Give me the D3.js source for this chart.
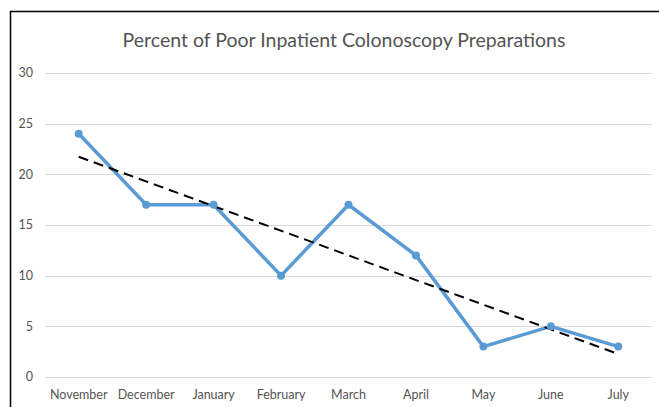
<!DOCTYPE html>
<html>
<head>
<meta charset="utf-8">
<script src="https://cdn.jsdelivr.net/npm/d3@7"></script>
<style>
  body { margin: 0; background: #fff; }
  text { font-family: Lato, "Open Sans", sans-serif; fill: #545454; }
</style>
</head>
<body>
<div id="chart"></div>
<script>
// data
let months = ["November", "December", "January", "February", "March", "April", "May", "June", "July"];
let percentPoor = [24, 17, 17, 10, 17, 12, 3, 5, 3];
let yTicks = [0, 5, 10, 15, 20, 25, 30];
let title = "Percent of Poor Inpatient Colonoscopy Preparations";

let width = 659, height = 407;
let margin = { top: 73, right: 7, bottom: 30, left: 45 };

let svg = d3.select("#chart").append("svg")
  .attr("width", width)
  .attr("height", height);

// frame (only top and left show in the crop)
svg.append("path")
  .attr("d", "M10.5," + height + "V11.5H" + width)
  .attr("fill", "none")
  .attr("stroke", "#000")
  .attr("stroke-width", 1.5);

let x = d3.scaleBand()
  .domain(months)
  .range([margin.left, width - margin.right]);

let y = d3.scaleLinear()
  .domain([0, 30])
  .range([height - margin.bottom, margin.top]);

// grid lines
svg.append("g")
  .selectAll("line")
  .data(yTicks)
  .enter().append("line")
  .attr("x1", margin.left)
  .attr("x2", width - margin.right)
  .attr("y1", d => Math.round(y(d)) + 0.5)
  .attr("y2", d => Math.round(y(d)) + 0.5)
  .attr("stroke", "#d9d9d9")
  .attr("stroke-width", 1);

// y labels
svg.append("g")
  .selectAll("text")
  .data(yTicks)
  .enter().append("text")
  .attr("x", 33)
  .attr("y", d => y(d))
  .attr("dy", "0.35em")
  .attr("text-anchor", "end")
  .attr("font-size", 12.5)
  .text(d => d);

// x labels
svg.append("g")
  .selectAll("text")
  .data(months)
  .enter().append("text")
  .attr("x", d => x(d) + x.bandwidth() / 2)
  .attr("y", 395)
  .attr("dy", "0.35em")
  .attr("text-anchor", "middle")
  .attr("font-size", 12.5)
  .text(d => d);

// title
svg.append("text")
  .attr("x", 344)
  .attr("y", 40)
  .attr("dy", "0.35em")
  .attr("text-anchor", "middle")
  .attr("font-size", 19.5)
  .text(title);

let cx = (d, i) => x(months[i]) + x.bandwidth() / 2;

// linear trendline from least squares of the series
let n = percentPoor.length;
let mx = d3.mean(percentPoor, (d, i) => i);
let my = d3.mean(percentPoor);
let sxy = d3.sum(percentPoor, (d, i) => (i - mx) * (d - my));
let sxx = d3.sum(percentPoor, (d, i) => (i - mx) * (i - mx));
let slope = sxy / sxx;
let intercept = my - slope * mx;
let trend = [0, n - 1].map(i => [x(months[i]) + x.bandwidth() / 2, y(intercept + slope * i)]);

let line = d3.line()
  .x(cx)
  .y(d => y(d));

svg.append("path")
  .datum(percentPoor)
  .attr("d", line)
  .attr("fill", "none")
  .attr("stroke", "#5b9bd5")
  .attr("stroke-width", 3.5)
  .attr("stroke-linejoin", "round");

svg.append("path")
  .datum(trend)
  .attr("d", d3.line())
  .attr("fill", "none")
  .attr("stroke", "#000")
  .attr("stroke-width", 2)
  .attr("stroke-dasharray", "10,6");

svg.append("g")
  .selectAll("circle")
  .data(percentPoor)
  .enter().append("circle")
  .attr("cx", cx)
  .attr("cy", d => y(d))
  .attr("r", 4)
  .attr("fill", "#5b9bd5");
</script>
</body>
</html>
